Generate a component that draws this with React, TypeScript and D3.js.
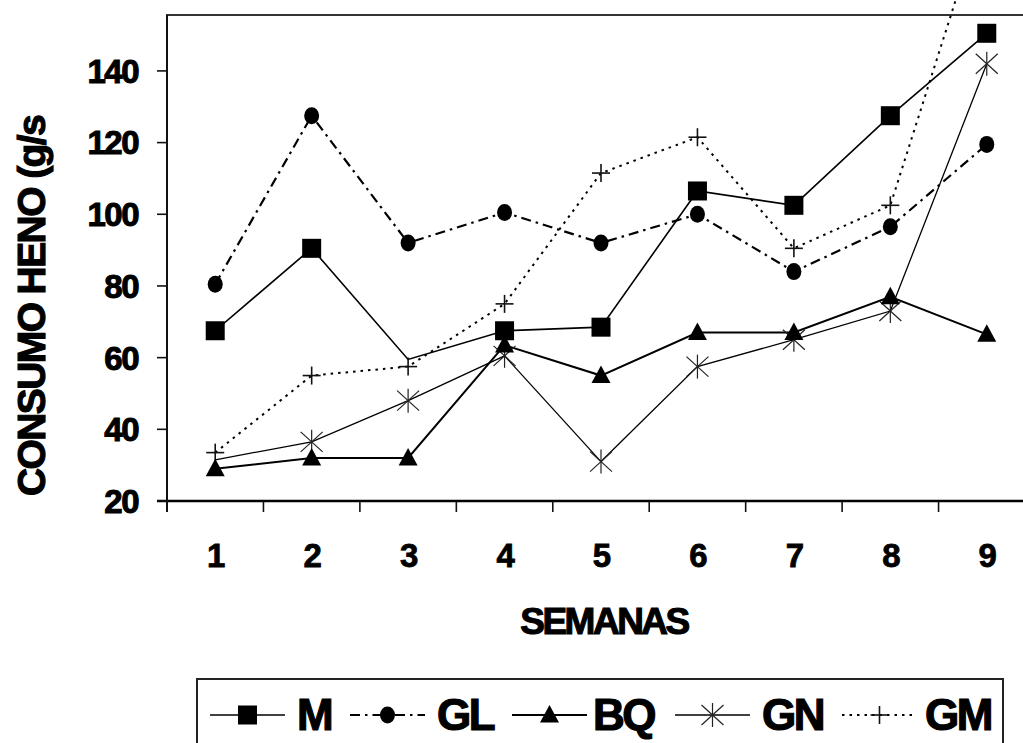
import React from "react";
import * as d3 from "d3";

const weeks = ["1", "2", "3", "4", "5", "6", "7", "8", "9"];
const seriesNames = ["M", "GL", "BQ", "GN", "GM"];
const mValues = [67.5, 90.5, 59.5, 67.5, 68.5, 106.5, 102.5, 127.5, 150.5];
const glValues = [80.5, 127.5, 92, 100.5, 92, 100, 84, 96.5, 119.5];
const bqValues = [29, 32, 32, 63.5, 55, 67, 67, 77, 66.5];
const gnValues = [31.5, 36.5, 48, 60.5, 31, 57.5, 65, 73, 142];
const gmValues = [33.5, 55, 57.5, 75, 111.5, 121.5, 90.5, 102.5, 187];
const yTicks = [20, 40, 60, 80, 100, 120, 140];
// points whose symbol is not drawn in the original
const hiddenMarkers = ["M-3", "GN-1"];

const seriesValues: Record<string, number[]> = {
  M: mValues,
  GL: glValues,
  BQ: bqValues,
  GN: gnValues,
  GM: gmValues,
};

// line look per series
const styles: Record<string, { shape: string; width: number; dash: string | null }> = {
  M: { shape: "square", width: 1.6, dash: null },
  GL: { shape: "circle", width: 2.2, dash: "10,5,2.5,5" },
  BQ: { shape: "triangle", width: 2, dash: null },
  GN: { shape: "asterisk", width: 1.3, dash: null },
  GM: { shape: "plus", width: 2, dash: "2.5,5" },
};

const W = 1023;
const H = 743;
const left = 167;
const right = 1035;
const top = 15;
const bottom = 501;
const font = "'Liberation Sans', Arial, sans-serif";

const x = d3.scaleBand<string>().domain(weeks).range([left, right]);
const y = d3.scaleLinear().domain([20, 155.6]).range([bottom, top]);
const cx = (w: string) => (x(w) as number) + x.bandwidth() / 2;

function Marker({ shape, px, py }: { shape: string; px: number; py: number }) {
  if (shape === "square") return <rect x={px - 9.5} y={py - 9.5} width={19} height={19} fill="#000" />;
  if (shape === "circle") return <ellipse cx={px} cy={py} rx={7.5} ry={8.5} fill="#000" />;
  if (shape === "triangle")
    return <path d={`M${px},${py - 10}L${px + 9.5},${py + 7.5}L${px - 9.5},${py + 7.5}Z`} fill="#000" />;
  if (shape === "asterisk")
    return (
      <g stroke="#222" strokeWidth={1.2}>
        <line x1={px} y1={py - 12} x2={px} y2={py + 12} />
        <line x1={px - 11} y1={py - 10} x2={px + 11} y2={py + 10} />
        <line x1={px - 11} y1={py + 10} x2={px + 11} y2={py - 10} />
      </g>
    );
  return (
    <g stroke="#111" strokeWidth={1.6}>
      <line x1={px - 9} y1={py} x2={px + 9} y2={py} />
      <line x1={px} y1={py - 9} x2={px} y2={py + 9} />
    </g>
  );
}

const legendLineX = [210, 350, 512, 675, 842];
const legendTextX = [297, 437, 593, 762, 925];

export default function App() {
  const line = d3
    .line<number>()
    .x((_, i) => cx(weeks[i]))
    .y((v) => y(v));

  const edges = weeks.slice(1).map((w) => x(w) as number);
  const drawOrder = ["GN", "GM", "GL", "BQ", "M"];

  return (
    <svg
      width={W}
      height={H}
      style={{ position: "absolute", left: 0, top: 0, background: "#fff" }}
      fontFamily={font}
      fontWeight="bold"
    >
      {/* frame */}
      <rect x={left} y={top} width={right - left} height={bottom - top} fill="none" stroke="#333" strokeWidth={2} />
      <line x1={left - 10} x2={right} y1={bottom} y2={bottom} stroke="#000" strokeWidth={2.5} />
      <line x1={left} x2={left} y1={top} y2={bottom + 11} stroke="#111" strokeWidth={2} />

      {/* y axis */}
      {yTicks.map((t) => (
        <g key={t}>
          <line x1={left - 10} x2={left} y1={y(t)} y2={y(t)} stroke="#111" strokeWidth={1.6} />
          <text
            x={138}
            y={y(t)}
            dy="0.36em"
            textAnchor="end"
            fontSize={33}
            letterSpacing={-1.5}
            stroke="#000"
            strokeWidth={1}
          >
            {t}
          </text>
        </g>
      ))}

      {/* x axis */}
      {edges.map((e, i) => (
        <line key={i} x1={e} x2={e} y1={bottom} y2={bottom + 11} stroke="#111" strokeWidth={1.6} />
      ))}
      {weeks.map((w) => (
        <text key={w} x={cx(w) + 1} y={567} textAnchor="middle" fontSize={33} stroke="#000" strokeWidth={0.8}>
          {w}
        </text>
      ))}

      <text x={604} y={634} textAnchor="middle" fontSize={37} letterSpacing={-2.5} stroke="#000" strokeWidth={1.1}>
        SEMANAS
      </text>
      <text
        transform="translate(45,306) rotate(-90)"
        textAnchor="middle"
        fontSize={39}
        letterSpacing={-1.6}
        stroke="#000"
        strokeWidth={1.1}
      >
        CONSUMO HENO (g/s
      </text>

      {/* series lines */}
      {drawOrder.map((name) => (
        <path
          key={name}
          d={line(seriesValues[name]) as string}
          fill="none"
          stroke="#000"
          strokeWidth={styles[name].width}
          strokeDasharray={styles[name].dash ?? undefined}
        />
      ))}
      {drawOrder.map((name) => (
        <g key={name}>
          {seriesValues[name].map((v, i) =>
            hiddenMarkers.includes(`${name}-${weeks[i]}`) ? null : (
              <Marker key={i} shape={styles[name].shape} px={cx(weeks[i])} py={y(v)} />
            )
          )}
        </g>
      ))}

      {/* legend */}
      <rect x={197} y={679} width={806} height={100} fill="none" stroke="#222" strokeWidth={2} />
      {seriesNames.map((name, i) => {
        const x0 = legendLineX[i];
        const len = 75;
        return (
          <g key={name}>
            <line
              x1={x0}
              x2={x0 + len}
              y1={715}
              y2={715}
              stroke="#000"
              strokeWidth={styles[name].width}
              strokeDasharray={styles[name].dash ?? undefined}
            />
            <Marker shape={styles[name].shape} px={x0 + len / 2} py={715} />
            <text x={legendTextX[i]} y={730} fontSize={44} letterSpacing={-2.5} stroke="#000" strokeWidth={1.2}>
              {name}
            </text>
          </g>
        );
      })}
    </svg>
  );
}
